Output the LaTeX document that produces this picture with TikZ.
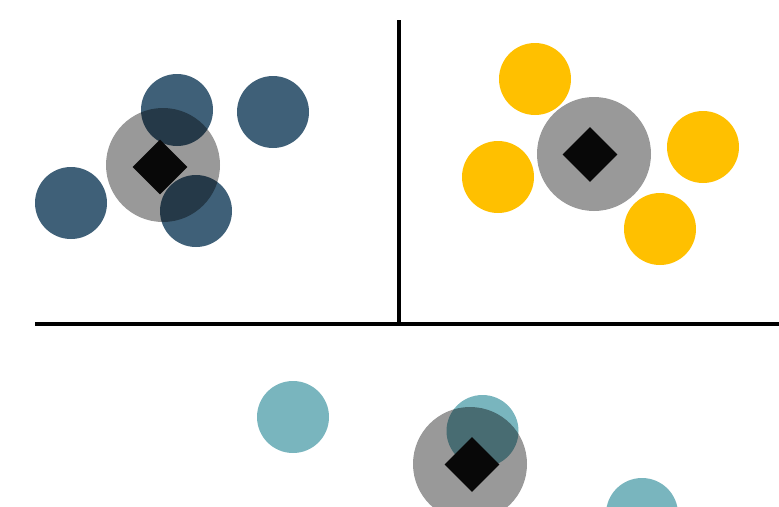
\documentclass[tikz,border=0pt]{standalone}
\usepackage{tikz}
\usetikzlibrary{shapes.geometric, positioning}
\definecolor{slateblue}{HTML}{3F6078}
\definecolor{amber}{HTML}{FFC000}
\definecolor{seateal}{HTML}{79B5BE}
\tikzstyle{point} = [circle, minimum size=72pt, inner sep=0pt, draw=none]
\tikzstyle{halo} = [circle, minimum size=114pt, inner sep=0pt, fill=black, fill opacity=0.4]
\tikzstyle{centroid} = [diamond, minimum size=55pt, inner sep=0pt, fill=black!97]
\tikzstyle{divider} = [line width=4.5pt, black]

\begin{document}
\begin{tikzpicture}[x=1pt, y=-1pt]
\useasboundingbox (0,0) rectangle (779,506);

% Dividing lines
\coordinate (vtop) at (399,20);
\coordinate (vbot) at (399,322);
\coordinate (hleft) at (35,324);
\coordinate (hright) at (779,324);
\draw[divider] (vtop) -- (vbot);
\draw[divider] (hleft) -- (hright);

% Cluster A (top left)
\node[point, fill=slateblue] (a1) at (177,110) {};
\node[point, fill=slateblue] (a2) at (273,112) {};
\node[point, fill=slateblue] (a3) at (71,203) {};
\node[point, fill=slateblue] (a4) at (196,211) {};
\node[halo] (ahalo) at (163,165) {};
\node[centroid] (acentre) at (160,167) {};

% Cluster B (top right)
\node[point, fill=amber] (b1) at (535,79) {};
\node[point, fill=amber] (b2) at (498,177) {};
\node[point, fill=amber] (b3) at (703,147) {};
\node[point, fill=amber] (b4) at (660,229) {};
\node[halo] (bhalo) at (594,154) {};
\node[centroid] (bcentre) at (590,154.5) {};

% Cluster C (bottom)
\node[point, fill=seateal] (c1) at (293,417) {};
\node[point, fill=seateal] (c2) at (482.5,431) {};
\node[point, fill=seateal] (c3) at (642,514) {};
\node[halo] (chalo) at (470,464) {};
\node[centroid] (ccentre) at (472,464.5) {};

\end{tikzpicture}
\end{document}
